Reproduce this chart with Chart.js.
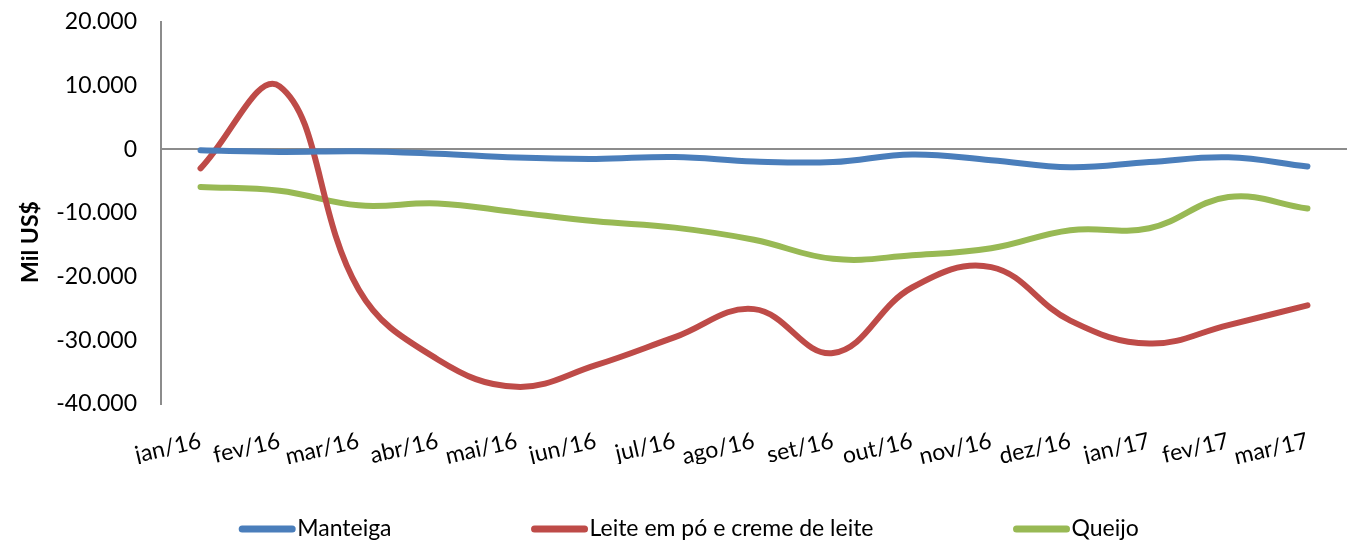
<!DOCTYPE html>
<html>
<head>
<meta charset="utf-8">
<script src="https://cdn.jsdelivr.net/npm/chart.js@4/dist/chart.umd.min.js"></script>
<style>
  html, body { margin: 0; padding: 0; background: #fff; }
  #wrap { width: 1354px; height: 542px; }
</style>
</head>
<body>
<div id="wrap"><canvas id="chart" width="1354" height="542"></canvas></div>
<script>
const meses = ['jan/16', 'fev/16', 'mar/16', 'abr/16', 'mai/16', 'jun/16', 'jul/16', 'ago/16',
    'set/16', 'out/16', 'nov/16', 'dez/16', 'jan/17', 'fev/17', 'mar/17'];

const manteiga = [-150, -400, -300, -700, -1300, -1500, -1200, -1900, -2000, -800, -1700, -2800, -2000, -1250, -2700];
const leite = [-3000, 9900, -22000, -33000, -37300, -33900, -29500, -25100, -32000, -21700, -18500, -26900, -30500, -27600, -24500];
const queijo = [-5900, -6500, -8800, -8500, -9900, -11300, -12300, -14200, -17200, -16650, -15550, -12700, -12400, -7500, -9300];

const tituloY = 'Mil US$';
const fonte = 'Lato, "Open Sans", sans-serif';

function fmt(v) {
    // formato pt-BR com ponto de milhar
    const s = Math.abs(v).toString().replace(/\B(?=(\d{3})+(?!\d))/g, '.');
    return (v < 0 ? '-' : '') + s;
}

function serie(label, data, cor) {
    return {
        label: label,
        data: data,
        borderColor: cor,
        backgroundColor: cor,
        borderWidth: 6,
        borderCapStyle: 'round',
        borderJoinStyle: 'round',
        tension: 0.4,
        pointRadius: 0,
        fill: false,
        clip: false
    };
}

// legenda e título do eixo desenhados à mão, para ficar como no original
const extrasPlugin = {
    id: 'extras',
    afterDraw(chart) {
        const c = chart.ctx;
        const linha = 56, gapTexto = 2, gap = 140, y = 529;
        c.save();
        c.font = '23px ' + fonte;
        c.textBaseline = 'middle';
        const itens = chart.data.datasets.map(ds => ({
            cor: ds.borderColor, txt: ds.label, w: linha + gapTexto + c.measureText(ds.label).width
        }));
        const total = itens.reduce((a, it) => a + it.w, 0) + gap * (itens.length - 1);
        let x = 689 - total / 2;
        itens.forEach(it => {
            c.strokeStyle = it.cor;
            c.lineWidth = 7;
            c.lineCap = 'round';
            c.beginPath();
            c.moveTo(x + 3, y);
            c.lineTo(x + linha - 3, y);
            c.stroke();
            c.fillStyle = '#000';
            c.fillText(it.txt, x + linha + gapTexto, y);
            x += it.w + gap;
        });
        c.restore();

        // título do eixo Y
        c.save();
        c.translate(31, 242);
        c.rotate(-Math.PI / 2);
        c.font = 'bold 23px ' + fonte;
        c.textAlign = 'center';
        c.textBaseline = 'middle';
        c.fillStyle = '#000';
        c.fillText(tituloY, 0, 0);
        c.restore();
    }
};

const ctx = document.getElementById('chart').getContext('2d');
const chart = new Chart(ctx, {
    type: 'line',
    data: {
        labels: meses,
        datasets: [
            serie('Manteiga', manteiga, '#4A7EBB'),
            serie('Leite em pó e creme de leite', leite, '#BE4B48'),
            serie('Queijo', queijo, '#98B954')
        ]
    },
    plugins: [extrasPlugin],
    options: {
        responsive: false,
        animation: false,
        layout: { padding: { top: 0, right: 7, left: 0, bottom: 78 } },
        plugins: {
            tooltip: { enabled: false },
            legend: { display: false }
        },
        scales: {
            x: {
                offset: true,
                grid: { display: false },
                border: { display: false },
                ticks: {
                    color: '#000',
                    font: { family: fonte, size: 23 },
                    autoSkip: false,
                    minRotation: 13,
                    maxRotation: 13,
                    padding: 15
                },
                afterFit: (s) => { s.height = 60; }
            },
            y: {
                min: -40000,
                max: 20000,
                border: { display: true, color: '#8c8c8c', width: 2 },
                grid: {
                    drawTicks: false,
                    lineWidth: 2,
                    color: (c) => (c.tick && c.tick.value === 0 ? '#8c8c8c' : 'rgba(0,0,0,0)')
                },
                ticks: {
                    stepSize: 10000,
                    color: '#000',
                    font: { family: fonte, size: 23 },
                    padding: 24,
                    callback: (v) => fmt(v)
                },
                afterFit: (s) => { s.width = 161; s.paddingTop = 22; s.paddingBottom = 0; }
            }
        }
    }
});
</script>
</body>
</html>
